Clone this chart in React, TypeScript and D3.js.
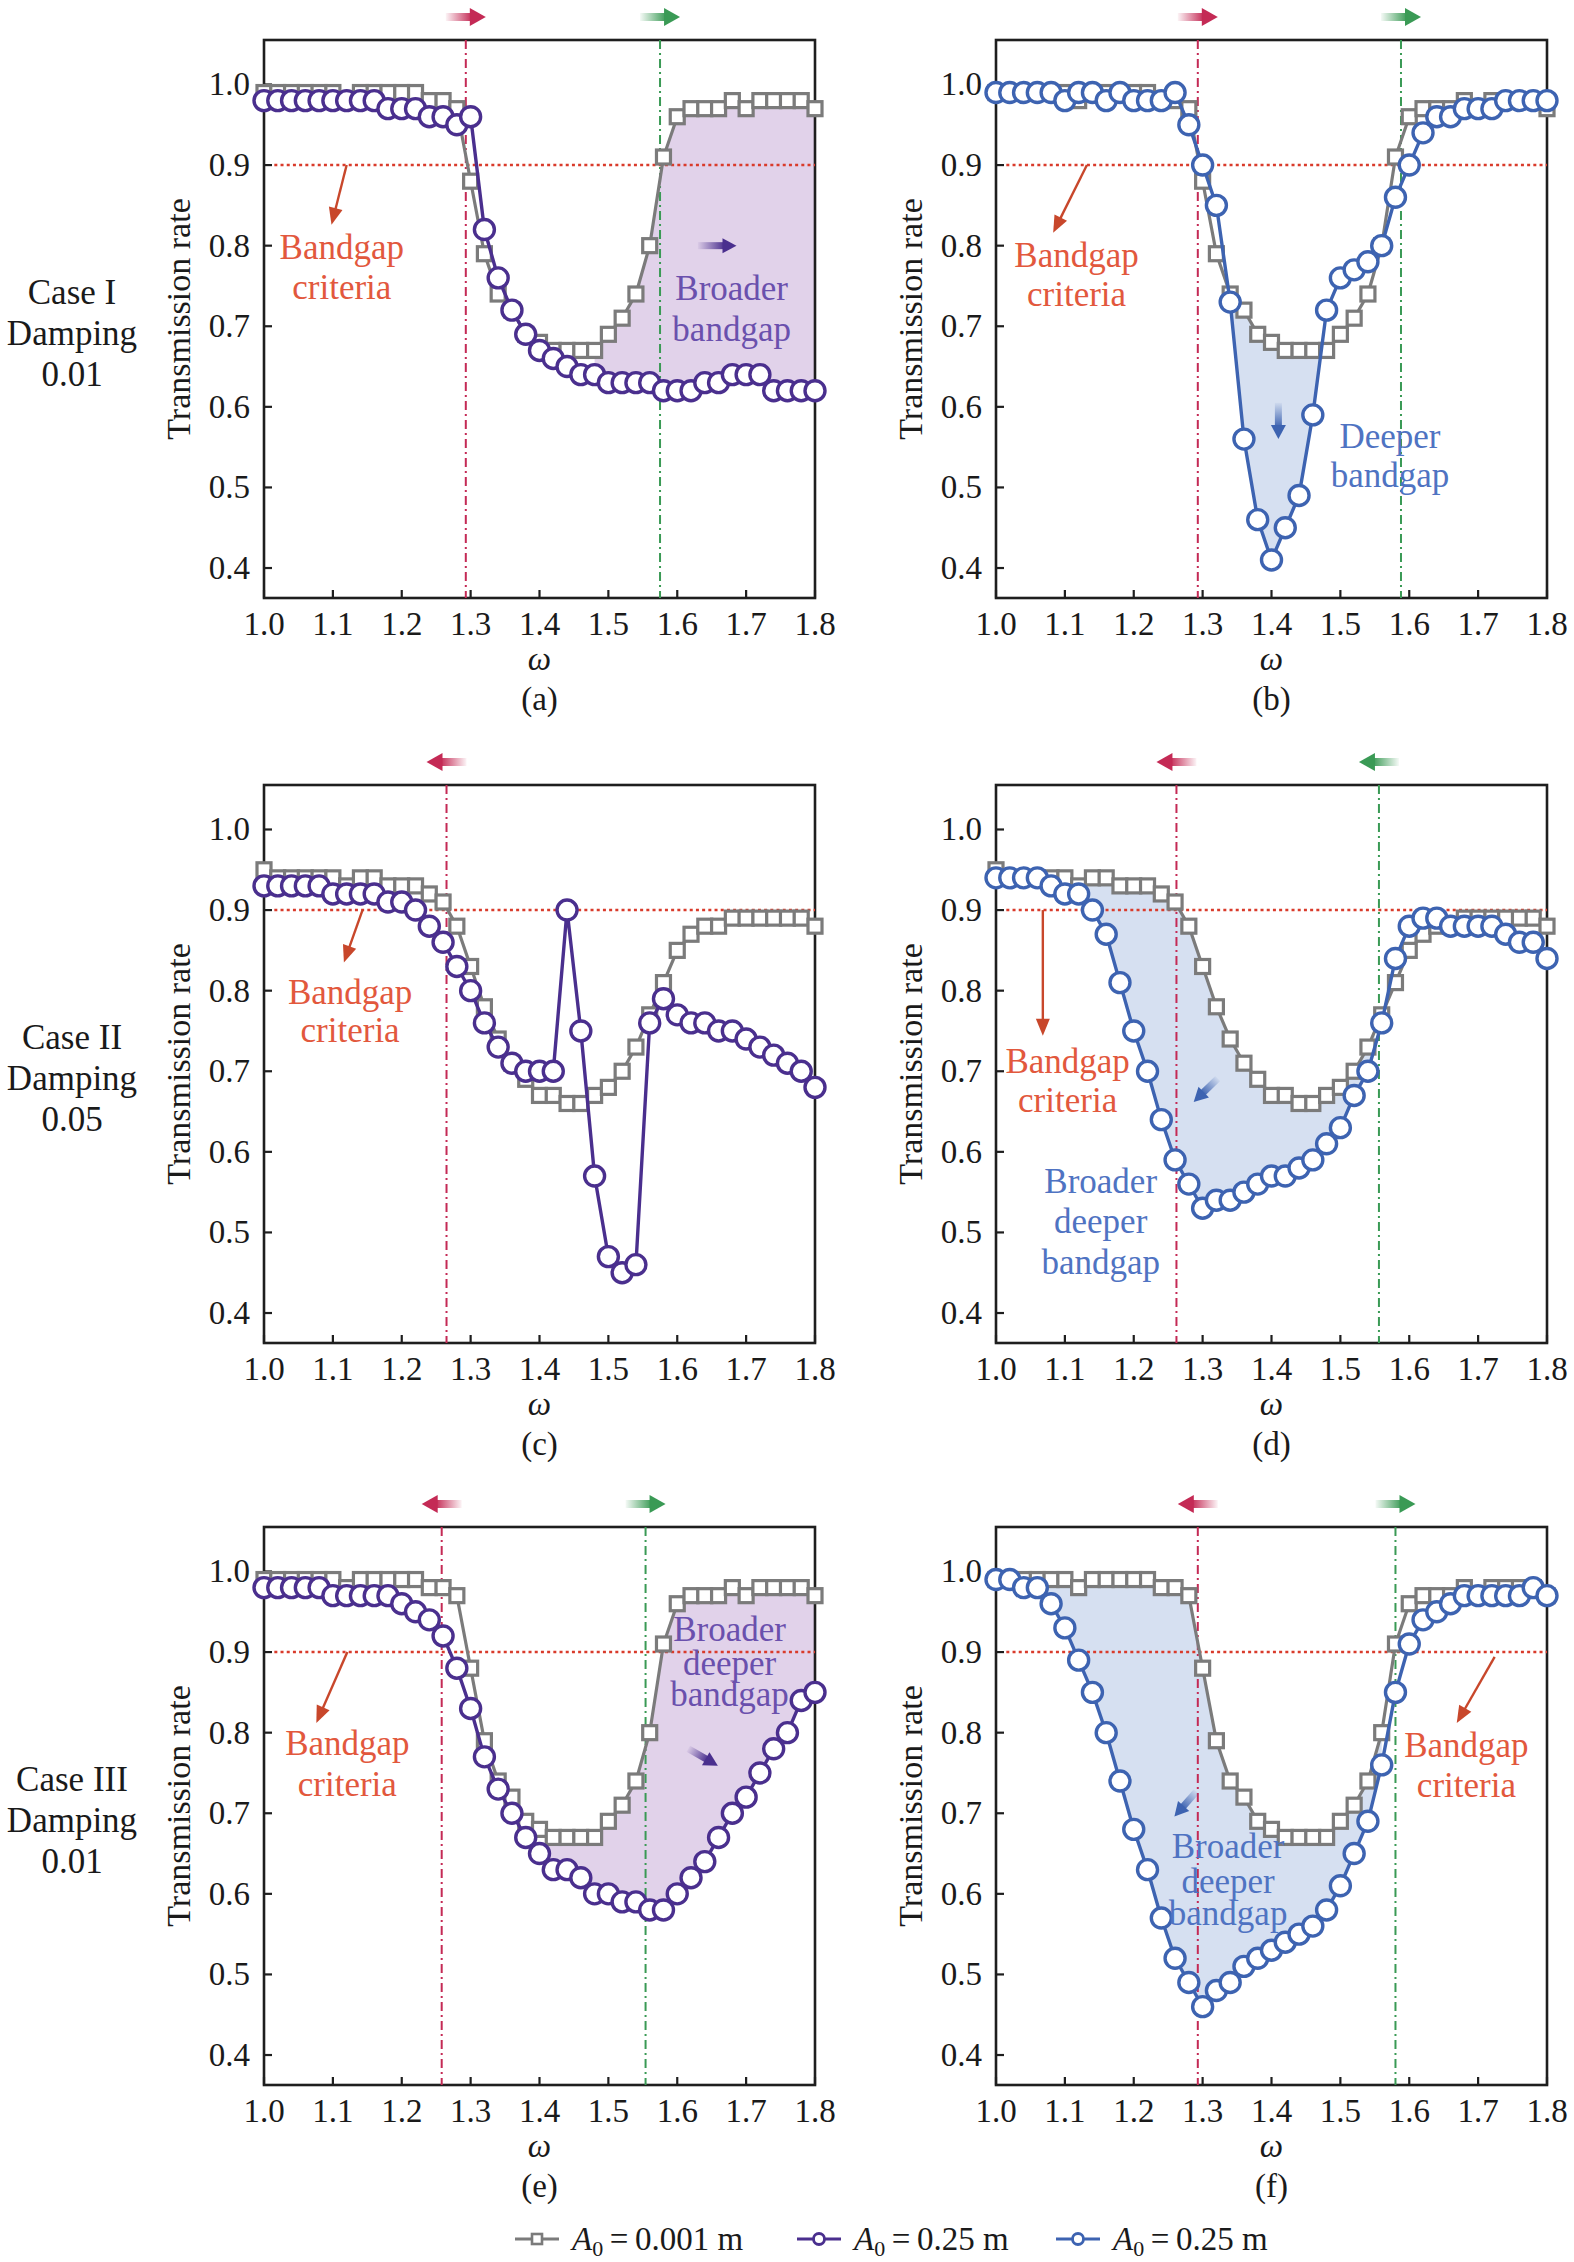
import React from 'react';
import * as d3 from 'd3';

// frequency grid (omega) and axis ticks
const omega = [
  1.0, 1.02, 1.04, 1.06, 1.08, 1.1, 1.12, 1.14, 1.16, 1.18, 1.2, 1.22, 1.24, 1.26,
  1.28, 1.3, 1.32, 1.34, 1.36, 1.38, 1.4, 1.42, 1.44, 1.46, 1.48, 1.5, 1.52, 1.54,
  1.56, 1.58, 1.6, 1.62, 1.64, 1.66, 1.68, 1.7, 1.72, 1.74, 1.76, 1.78, 1.8,
];
const xTicks = [1.0, 1.1, 1.2, 1.3, 1.4, 1.5, 1.6, 1.7, 1.8];
const yTicks = [0.4, 0.5, 0.6, 0.7, 0.8, 0.9, 1.0];

// A0 = 0.001 m, damping 0.01 (cases I and III)
const squaresDamp001 = [
  0.99, 0.99, 0.99, 0.99, 0.99, 0.99, 0.98, 0.99, 0.99, 0.99, 0.99, 0.99, 0.98, 0.98,
  0.97, 0.88, 0.79, 0.74, 0.72, 0.69, 0.68, 0.67, 0.67, 0.67, 0.67, 0.69, 0.71, 0.74,
  0.8, 0.91, 0.96, 0.97, 0.97, 0.97, 0.98, 0.97, 0.98, 0.98, 0.98, 0.98, 0.97,
];
// A0 = 0.001 m, damping 0.05 (case II)
const squaresDamp005 = [
  0.95, 0.94, 0.94, 0.94, 0.94, 0.94, 0.93, 0.94, 0.94, 0.93, 0.93, 0.93, 0.92, 0.91,
  0.88, 0.83, 0.78, 0.74, 0.71, 0.69, 0.67, 0.67, 0.66, 0.66, 0.67, 0.68, 0.7, 0.73,
  0.77, 0.81, 0.85, 0.87, 0.88, 0.88, 0.89, 0.89, 0.89, 0.89, 0.89, 0.89, 0.88,
];
// A0 = 0.25 m, one series per panel
const circlesA = [
  0.98, 0.98, 0.98, 0.98, 0.98, 0.98, 0.98, 0.98, 0.98, 0.97, 0.97, 0.97, 0.96, 0.96,
  0.95, 0.96, 0.82, 0.76, 0.72, 0.69, 0.67, 0.66, 0.65, 0.64, 0.64, 0.63, 0.63, 0.63,
  0.63, 0.62, 0.62, 0.62, 0.63, 0.63, 0.64, 0.64, 0.64, 0.62, 0.62, 0.62, 0.62,
];
const circlesB = [
  0.99, 0.99, 0.99, 0.99, 0.99, 0.98, 0.99, 0.99, 0.98, 0.99, 0.98, 0.98, 0.98, 0.99,
  0.95, 0.9, 0.85, 0.73, 0.56, 0.46, 0.41, 0.45, 0.49, 0.59, 0.72, 0.76, 0.77, 0.78,
  0.8, 0.86, 0.9, 0.94, 0.96, 0.96, 0.97, 0.97, 0.97, 0.98, 0.98, 0.98, 0.98,
];
const circlesC = [
  0.93, 0.93, 0.93, 0.93, 0.93, 0.92, 0.92, 0.92, 0.92, 0.91, 0.91, 0.9, 0.88, 0.86,
  0.83, 0.8, 0.76, 0.73, 0.71, 0.7, 0.7, 0.7, 0.9, 0.75, 0.57, 0.47, 0.45, 0.46,
  0.76, 0.79, 0.77, 0.76, 0.76, 0.75, 0.75, 0.74, 0.73, 0.72, 0.71, 0.7, 0.68,
];
const circlesD = [
  0.94, 0.94, 0.94, 0.94, 0.93, 0.92, 0.92, 0.9, 0.87, 0.81, 0.75, 0.7, 0.64, 0.59,
  0.56, 0.53, 0.54, 0.54, 0.55, 0.56, 0.57, 0.57, 0.58, 0.59, 0.61, 0.63, 0.67, 0.7,
  0.76, 0.84, 0.88, 0.89, 0.89, 0.88, 0.88, 0.88, 0.88, 0.87, 0.86, 0.86, 0.84,
];
const circlesE = [
  0.98, 0.98, 0.98, 0.98, 0.98, 0.97, 0.97, 0.97, 0.97, 0.97, 0.96, 0.95, 0.94, 0.92,
  0.88, 0.83, 0.77, 0.73, 0.7, 0.67, 0.65, 0.63, 0.63, 0.62, 0.6, 0.6, 0.59, 0.59,
  0.58, 0.58, 0.6, 0.62, 0.64, 0.67, 0.7, 0.72, 0.75, 0.78, 0.8, 0.84, 0.85,
];
const circlesF = [
  0.99, 0.99, 0.98, 0.98, 0.96, 0.93, 0.89, 0.85, 0.8, 0.74, 0.68, 0.63, 0.57, 0.52,
  0.49, 0.46, 0.48, 0.49, 0.51, 0.52, 0.53, 0.54, 0.55, 0.56, 0.58, 0.61, 0.65, 0.69,
  0.76, 0.85, 0.91, 0.94, 0.95, 0.96, 0.97, 0.97, 0.97, 0.97, 0.97, 0.98, 0.97,
];

const caseLabels = [
  ['Case I', 'Damping', '0.01'],
  ['Case II', 'Damping', '0.05'],
  ['Case III', 'Damping', '0.01'],
];
const legendLabels = ['0.001 m', '0.25 m', '0.25 m'];

const W = 1574;
const H = 2262;
const COL_X = [264, 996];
const ROW_Y = [40, 785, 1527];
const PLOT_W = 551;
const PLOT_H = 558;
const Y_DOMAIN = [0.3628, 1.0552];
const FONT = "'Liberation Serif', 'DejaVu Serif', serif";

const COLORS = {
  axis: '#1e1e1e',
  gray: '#7b7b7b',
  purple: '#4a2f8e',
  purpleText: '#6a50ad',
  purpleFill: '#e1d2ea',
  blue: '#3d63b1',
  blueText: '#4f73c2',
  blueFill: '#d6e0f1',
  criteria: '#d93b2b',
  criteriaText: '#e2583d',
  criteriaArrow: '#c8472b',
  redLine: '#c42a55',
  greenLine: '#3a9a55',
};

type Pt = [number, number];
interface PanelCfg {
  label: string;
  col: number;
  row: number;
  circles: number[];
  squares: number[];
  theme: 'purple' | 'blue';
  redX: number;
  redDir: number;
  greenX?: number;
  greenDir?: number;
  fill?: [number, number];
  criteriaArrow: [Pt, Pt];
  criteriaText: { x: number; ys: number[] };
  note?: { lines: string[]; x: number; ys: number[] };
  noteArrow?: [Pt, Pt];
}

const panels: PanelCfg[] = [
  {
    label: '(a)', col: 0, row: 0, circles: circlesA, squares: squaresDamp001, theme: 'purple',
    redX: 1.293, redDir: 1, greenX: 1.575, greenDir: 1, fill: [1.48, 1.8],
    criteriaArrow: [[1.12, 0.9], [1.098, 0.826]],
    criteriaText: { x: 1.113, ys: [0.796, 0.747] },
    note: { lines: ['Broader', 'bandgap'], x: 1.679, ys: [0.745, 0.695] },
    noteArrow: [[1.63, 0.8], [1.686, 0.8]],
  },
  {
    label: '(b)', col: 1, row: 0, circles: circlesB, squares: squaresDamp001, theme: 'blue',
    redX: 1.293, redDir: 1, greenX: 1.588, greenDir: 1, fill: [1.32, 1.5],
    criteriaArrow: [[1.132, 0.9], [1.083, 0.816]],
    criteriaText: { x: 1.117, ys: [0.787, 0.738] },
    note: { lines: ['Deeper', 'bandgap'], x: 1.572, ys: [0.562, 0.513] },
    noteArrow: [[1.41, 0.605], [1.41, 0.56]],
  },
  {
    label: '(c)', col: 0, row: 1, circles: circlesC, squares: squaresDamp005, theme: 'purple',
    redX: 1.265, redDir: -1,
    criteriaArrow: [[1.143, 0.9], [1.116, 0.835]],
    criteriaText: { x: 1.125, ys: [0.797, 0.749] },
  },
  {
    label: '(d)', col: 1, row: 1, circles: circlesD, squares: squaresDamp005, theme: 'blue',
    redX: 1.262, redDir: -1, greenX: 1.556, greenDir: -1, fill: [1.13, 1.55],
    criteriaArrow: [[1.068, 0.9], [1.068, 0.744]],
    criteriaText: { x: 1.104, ys: [0.711, 0.662] },
    note: { lines: ['Broader', 'deeper', 'bandgap'], x: 1.152, ys: [0.562, 0.512, 0.462] },
    noteArrow: [[1.322, 0.691], [1.287, 0.662]],
  },
  {
    label: '(e)', col: 0, row: 2, circles: circlesE, squares: squaresDamp001, theme: 'purple',
    redX: 1.258, redDir: -1, greenX: 1.554, greenDir: 1, fill: [1.41, 1.8],
    criteriaArrow: [[1.121, 0.9], [1.076, 0.812]],
    criteriaText: { x: 1.121, ys: [0.785, 0.735] },
    note: { lines: ['Broader', 'deeper', 'bandgap'], x: 1.676, ys: [0.927, 0.885, 0.846] },
    noteArrow: [[1.616, 0.78], [1.659, 0.759]],
  },
  {
    label: '(f)', col: 1, row: 2, circles: circlesF, squares: squaresDamp001, theme: 'blue',
    redX: 1.293, redDir: -1, greenX: 1.58, greenDir: 1, fill: [1.06, 1.56],
    criteriaArrow: [[1.724, 0.894], [1.669, 0.812]],
    criteriaText: { x: 1.683, ys: [0.783, 0.733] },
    note: { lines: ['Broader', 'deeper', 'bandgap'], x: 1.337, ys: [0.657, 0.614, 0.574] },
    noteArrow: [[1.291, 0.727], [1.259, 0.696]],
  },
];

// fat arrow with a fading shaft, drawn from tail to head
function FatArrow({ from, to, color, gradId, shaftH = 8, headL = 16, headH = 18 }: {
  from: Pt; to: Pt; color: string; gradId: string; shaftH?: number; headL?: number; headH?: number;
}) {
  const dx = to[0] - from[0];
  const dy = to[1] - from[1];
  const len = Math.hypot(dx, dy);
  const ang = (Math.atan2(dy, dx) * 180) / Math.PI;
  return (
    <g transform={`translate(${from[0]},${from[1]}) rotate(${ang})`}>
      <rect x={0} y={-shaftH / 2} width={len - headL + 1} height={shaftH} fill={`url(#${gradId})`} />
      <polygon points={`${len - headL},${-headH / 2} ${len},0 ${len - headL},${headH / 2}`} fill={color} />
    </g>
  );
}

function ThinArrow({ from, to, color }: { from: Pt; to: Pt; color: string }) {
  const dx = to[0] - from[0];
  const dy = to[1] - from[1];
  const len = Math.hypot(dx, dy);
  const ang = (Math.atan2(dy, dx) * 180) / Math.PI;
  const headL = 17;
  const headH = 14;
  return (
    <g transform={`translate(${from[0]},${from[1]}) rotate(${ang})`}>
      <line x1={0} y1={0} x2={len - headL + 2} y2={0} stroke={color} strokeWidth={2.4} />
      <polygon points={`${len - headL},${-headH / 2} ${len},0 ${len - headL},${headH / 2}`} fill={color} />
    </g>
  );
}

function Panel({ cfg }: { cfg: PanelCfg }) {
  const left = COL_X[cfg.col];
  const top = ROW_Y[cfg.row];
  const bottom = top + PLOT_H;
  const x = d3.scaleLinear().domain([1.0, 1.8]).range([left, left + PLOT_W]);
  const y = d3.scaleLinear().domain(Y_DOMAIN).range([bottom, top]);

  const main = cfg.theme === 'purple' ? COLORS.purple : COLORS.blue;
  const noteColor = cfg.theme === 'purple' ? COLORS.purpleText : COLORS.blueText;
  const fillColor = cfg.theme === 'purple' ? COLORS.purpleFill : COLORS.blueFill;

  const line = d3
    .line<number>()
    .x((_, i) => x(omega[i]))
    .y((d) => y(d));

  let fillPath: string | null = null;
  if (cfg.fill) {
    const up = d3.scaleLinear().domain(omega).range(cfg.squares);
    const lo = d3.scaleLinear().domain(omega).range(cfg.circles);
    const samples = d3.range(cfg.fill[0], cfg.fill[1] + 1e-9, 0.002);
    fillPath = d3
      .area<number>()
      .x((v) => x(v))
      .y0((v) => y(lo(v)))
      .y1((v) => y(Math.max(up(v), lo(v))))(samples);
  }

  const arrowY = top - 23;
  const sq = 14;

  return (
    <g>
      {fillPath && <path d={fillPath} fill={fillColor} />}

      {/* frame and inward ticks */}
      <rect x={left} y={top} width={PLOT_W} height={PLOT_H} fill="none" stroke={COLORS.axis} strokeWidth={2.6} />
      {xTicks.map((t) => (
        <g key={`xt${t}`}>
          <line x1={x(t)} x2={x(t)} y1={bottom} y2={bottom - 8} stroke={COLORS.axis} strokeWidth={2.2} />
          <text x={x(t)} y={bottom + 37} textAnchor="middle" fontSize={33}>{t.toFixed(1)}</text>
        </g>
      ))}
      {yTicks.map((t) => (
        <g key={`yt${t}`}>
          <line x1={left} x2={left + 8} y1={y(t)} y2={y(t)} stroke={COLORS.axis} strokeWidth={2.2} />
          <text x={left - 14} y={y(t) + 11} textAnchor="end" fontSize={33}>{t.toFixed(1)}</text>
        </g>
      ))}
      <text x={left + PLOT_W / 2} y={bottom + 72} textAnchor="middle" fontSize={33} fontStyle="italic">ω</text>
      <text x={left + PLOT_W / 2} y={bottom + 112} textAnchor="middle" fontSize={33}>{cfg.label}</text>
      <text
        transform={`translate(${left - 74},${top + PLOT_H / 2}) rotate(-90)`}
        textAnchor="middle"
        fontSize={34}
      >
        Transmission rate
      </text>

      {/* bandgap criterion and band edges */}
      <line x1={x(1.015)} x2={x(1.8)} y1={y(0.9)} y2={y(0.9)} stroke={COLORS.criteria} strokeWidth={2.6} strokeDasharray="3 3.2" />
      <line x1={x(cfg.redX)} x2={x(cfg.redX)} y1={top} y2={bottom} stroke={COLORS.redLine} strokeWidth={2} strokeDasharray="9 4 2 4" />
      {cfg.greenX !== undefined && (
        <line x1={x(cfg.greenX)} x2={x(cfg.greenX)} y1={top} y2={bottom} stroke={COLORS.greenLine} strokeWidth={2} strokeDasharray="9 4 2 4" />
      )}
      <FatArrow
        from={[x(cfg.redX) - 20 * cfg.redDir, arrowY]}
        to={[x(cfg.redX) + 20 * cfg.redDir, arrowY]}
        color={COLORS.redLine}
        gradId="grad-red"
      />
      {cfg.greenX !== undefined && (
        <FatArrow
          from={[x(cfg.greenX) - 20 * (cfg.greenDir ?? 1), arrowY]}
          to={[x(cfg.greenX) + 20 * (cfg.greenDir ?? 1), arrowY]}
          color={COLORS.greenLine}
          gradId="grad-green"
        />
      )}

      {/* A0 = 0.001 m */}
      <path d={line(cfg.squares) ?? ''} fill="none" stroke={COLORS.gray} strokeWidth={3.2} />
      {cfg.squares.map((v, i) => (
        <rect key={`s${i}`} x={x(omega[i]) - sq / 2} y={y(v) - sq / 2} width={sq} height={sq} fill="#fff" stroke={COLORS.gray} strokeWidth={3.2} />
      ))}
      {/* A0 = 0.25 m */}
      <path d={line(cfg.circles) ?? ''} fill="none" stroke={main} strokeWidth={3.4} />
      {cfg.circles.map((v, i) => (
        <circle key={`c${i}`} cx={x(omega[i])} cy={y(v)} r={10} fill="#fff" stroke={main} strokeWidth={3.4} />
      ))}

      {/* annotations */}
      <ThinArrow
        from={[x(cfg.criteriaArrow[0][0]), y(cfg.criteriaArrow[0][1])]}
        to={[x(cfg.criteriaArrow[1][0]), y(cfg.criteriaArrow[1][1])]}
        color={COLORS.criteriaArrow}
      />
      {['Bandgap', 'criteria'].map((s, i) => (
        <text key={s} x={x(cfg.criteriaText.x)} y={y(cfg.criteriaText.ys[i])} dy="0.3em" textAnchor="middle" fontSize={35} fill={COLORS.criteriaText}>
          {s}
        </text>
      ))}
      {cfg.note &&
        cfg.note.lines.map((s, i) => (
          <text key={`n${i}`} x={x(cfg.note!.x)} y={y(cfg.note!.ys[i])} dy="0.3em" textAnchor="middle" fontSize={35} fill={noteColor}>
            {s}
          </text>
        ))}
      {cfg.noteArrow && (
        <FatArrow
          from={[x(cfg.noteArrow[0][0]), y(cfg.noteArrow[0][1])]}
          to={[x(cfg.noteArrow[1][0]), y(cfg.noteArrow[1][1])]}
          color={main}
          gradId={cfg.theme === 'purple' ? 'grad-purple' : 'grad-blue'}
          shaftH={7}
          headL={14}
          headH={15}
        />
      )}
    </g>
  );
}

function Legend() {
  const cy = 2239;
  const items = [
    { x0: 515, color: COLORS.gray, marker: 'square' },
    { x0: 797, color: COLORS.purple, marker: 'circle' },
    { x0: 1056, color: COLORS.blue, marker: 'circle' },
  ];
  return (
    <g>
      {items.map((it, i) => (
        <g key={i}>
          <line x1={it.x0} x2={it.x0 + 44} y1={cy} y2={cy} stroke={it.color} strokeWidth={3} />
          {it.marker === 'square' ? (
            <rect x={it.x0 + 17} y={cy - 5} width={10} height={10} fill="#fff" stroke={it.color} strokeWidth={2.6} />
          ) : (
            <circle cx={it.x0 + 22} cy={cy} r={5.5} fill="#fff" stroke={it.color} strokeWidth={2.8} />
          )}
          <text x={it.x0 + 57} y={cy + 11} fontSize={33}>
            <tspan fontStyle="italic">A</tspan>
            <tspan dy={6} fontSize={22}>0</tspan>
            <tspan dy={-6}>{'\u2009=\u2009' + legendLabels[i]}</tspan>
          </text>
        </g>
      ))}
    </g>
  );
}

export default function App() {
  const grads: [string, string][] = [
    ['grad-red', COLORS.redLine],
    ['grad-green', COLORS.greenLine],
    ['grad-purple', COLORS.purple],
    ['grad-blue', COLORS.blue],
  ];
  return (
    <svg
      width={W}
      height={H}
      viewBox={`0 0 ${W} ${H}`}
      style={{ position: 'absolute', left: 0, top: 0, background: '#fff' }}
      fontFamily={FONT}
      fill="#1a1a1a"
    >
      <defs>
        {grads.map(([id, c]) => (
          <linearGradient key={id} id={id} x1="0" x2="1" y1="0" y2="0">
            <stop offset="0" stopColor={c} stopOpacity={0.05} />
            <stop offset="1" stopColor={c} stopOpacity={0.95} />
          </linearGradient>
        ))}
      </defs>
      <rect width={W} height={H} fill="#fff" />
      {caseLabels.map((lines, r) =>
        lines.map((s, i) => (
          <text key={`${r}-${i}`} x={72} y={ROW_Y[r] + 264 + i * 41} textAnchor="middle" fontSize={35}>
            {s}
          </text>
        )),
      )}
      {panels.map((p) => (
        <Panel key={p.label} cfg={p} />
      ))}
      <Legend />
    </svg>
  );
}
